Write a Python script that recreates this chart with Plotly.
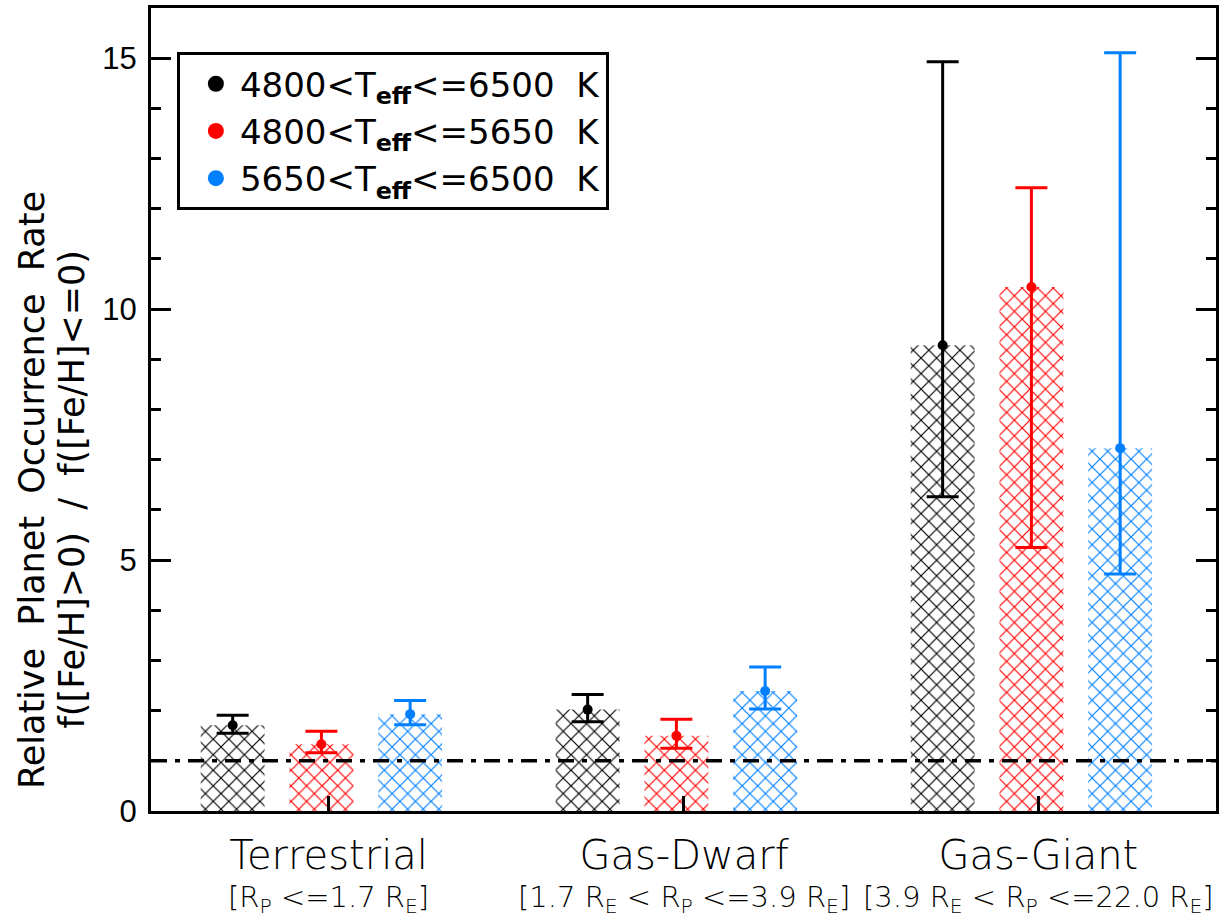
import plotly.graph_objects as go

# ---------------- data ----------------
categories = ["Terrestrial", "Gas-Dwarf", "Gas-Giant"]
category_ranges = [
    "[R<sub>P</sub> &lt;=1.7 R<sub>E</sub>]",
    "[1.7 R<sub>E</sub> &lt; R<sub>P</sub> &lt;=3.9 R<sub>E</sub>]",
    "[3.9 R<sub>E</sub> &lt; R<sub>P</sub> &lt;=22.0 R<sub>E</sub>]",
]
series_names = [
    "4800&lt;T<sub><b>eff</b></sub>&lt;=6500\u00a0 K",
    "4800&lt;T<sub><b>eff</b></sub>&lt;=5650\u00a0 K",
    "5650&lt;T<sub><b>eff</b></sub>&lt;=6500\u00a0 K",
]
all_val = [1.71, 2.02, 9.28]
all_hi = [1.91, 2.32, 14.93]
all_lo = [1.55, 1.78, 6.26]

cool_val = [1.33, 1.50, 10.44]
cool_hi = [1.59, 1.83, 12.42]
cool_lo = [1.16, 1.25, 5.25]

hot_val = [1.93, 2.39, 7.23]
hot_hi = [2.20, 2.87, 15.11]
hot_lo = [1.72, 2.03, 4.72]

y_ticks = [0, 5, 10, 15]
reference_level = 1.0

# ---------------- style ----------------
colors = ["#000000", "#FF0000", "#0080FF"]
offsets = [-0.27, -0.02, 0.23]
bar_width = 0.18
group_pos = [1, 2, 3]

series = [
    (all_val, all_hi, all_lo),
    (cool_val, cool_hi, cool_lo),
    (hot_val, hot_hi, hot_lo),
]

fig = go.Figure()

for i, (vals, hi, lo) in enumerate(series):
    xs = [g + offsets[i] for g in group_pos]
    fig.add_trace(go.Bar(
        x=xs, y=vals, width=bar_width,
        marker=dict(
            color="white",
            line=dict(width=0),
            pattern=dict(shape="x", fgcolor=colors[i], bgcolor="white",
                         size=11, solidity=0.2, fillmode="replace"),
        ),
        showlegend=False, hoverinfo="skip",
    ))

for i, (vals, hi, lo) in enumerate(series):
    xs = [g + offsets[i] for g in group_pos]
    fig.add_trace(go.Scatter(
        x=xs, y=vals, mode="markers",
        marker=dict(color=colors[i], size=10),
        error_y=dict(type="data", symmetric=False,
                     array=[h - v for h, v in zip(hi, vals)],
                     arrayminus=[v - l for v, l in zip(vals, lo)],
                     color=colors[i], thickness=3, width=16),
        showlegend=False,
    ))

# legend-only entries
for i in range(3):
    fig.add_trace(go.Scatter(
        x=[None], y=[None], mode="markers", name=series_names[i],
        marker=dict(color=colors[i], size=21),
    ))

fig.add_shape(type="line", xref="paper", x0=0, x1=1, yref="y",
              y0=reference_level, y1=reference_level,
              line=dict(color="black", width=3.5, dash="16px,8px,5px,8px"),
              layer="above")

# category labels (two lines each)
for g, name, rng in zip(group_pos, categories, category_ranges):
    fig.add_annotation(x=g, xref="x", y=-0.0796, yref="paper",
                       text=f"<span style='font-size:40px'>{name}</span><br>{rng}",
                       showarrow=False, xanchor="center", yanchor="middle",
                       align="center",
                       font=dict(family="DejaVu Sans", size=29, color="black", weight=200))

# y title (two lines)
fig.add_annotation(x=-0.1115, xref="paper", y=0.40, yref="paper",
                   text="Relative\u00a0 Planet\u00a0 Occurrence\u00a0 Rate",
                   textangle=-90, showarrow=False, xanchor="center", yanchor="middle",
                   font=dict(family="DejaVu Sans", size=35, color="black"))
fig.add_annotation(x=-0.0745, xref="paper", y=0.40, yref="paper",
                   text="f([Fe/H]&gt;0)\u00a0 /\u00a0 f([Fe/H]&lt;=0)",
                   textangle=-90, showarrow=False, xanchor="center", yanchor="middle",
                   font=dict(family="DejaVu Sans", size=35, color="black"))

fig.update_layout(
    width=1224, height=917,
    margin=dict(l=151, r=5, t=7, b=106),
    paper_bgcolor="white", plot_bgcolor="white",
    barmode="overlay",
    showlegend=True,
    legend=dict(x=0.0243, y=0.945, xanchor="left", yanchor="top",
                bgcolor="white", bordercolor="black", borderwidth=3,
                font=dict(family="DejaVu Sans", size=34, color="black"),
                itemsizing="trace", tracegroupgap=0,
                indentation=12, itemwidth=38),
    font=dict(family="Liberation Sans", color="black"),
)

fig.update_xaxes(range=[0.5, 3.5], tickvals=group_pos, showticklabels=False,
                 ticks="inside", ticklen=15, tickwidth=3, tickcolor="black",
                 showline=True, linewidth=3, linecolor="black", mirror=True,
                 showgrid=False, zeroline=False)
fig.update_yaxes(range=[0, 16], tickvals=y_ticks,
                 ticks="inside", ticklen=20, tickwidth=3, tickcolor="black",
                 minor=dict(dtick=1, ticks="inside", ticklen=10, tickwidth=3,
                            tickcolor="black", showgrid=False),
                 showline=True, linewidth=3, linecolor="black", mirror="ticks",
                 showgrid=False, zeroline=False,
                 tickfont=dict(family="Liberation Sans", size=31, color="black"),
                 ticklabelstandoff=5)

fig.write_html("out.html", config={"displayModeBar": False},
               post_script="document.body.style.margin='0px';")
